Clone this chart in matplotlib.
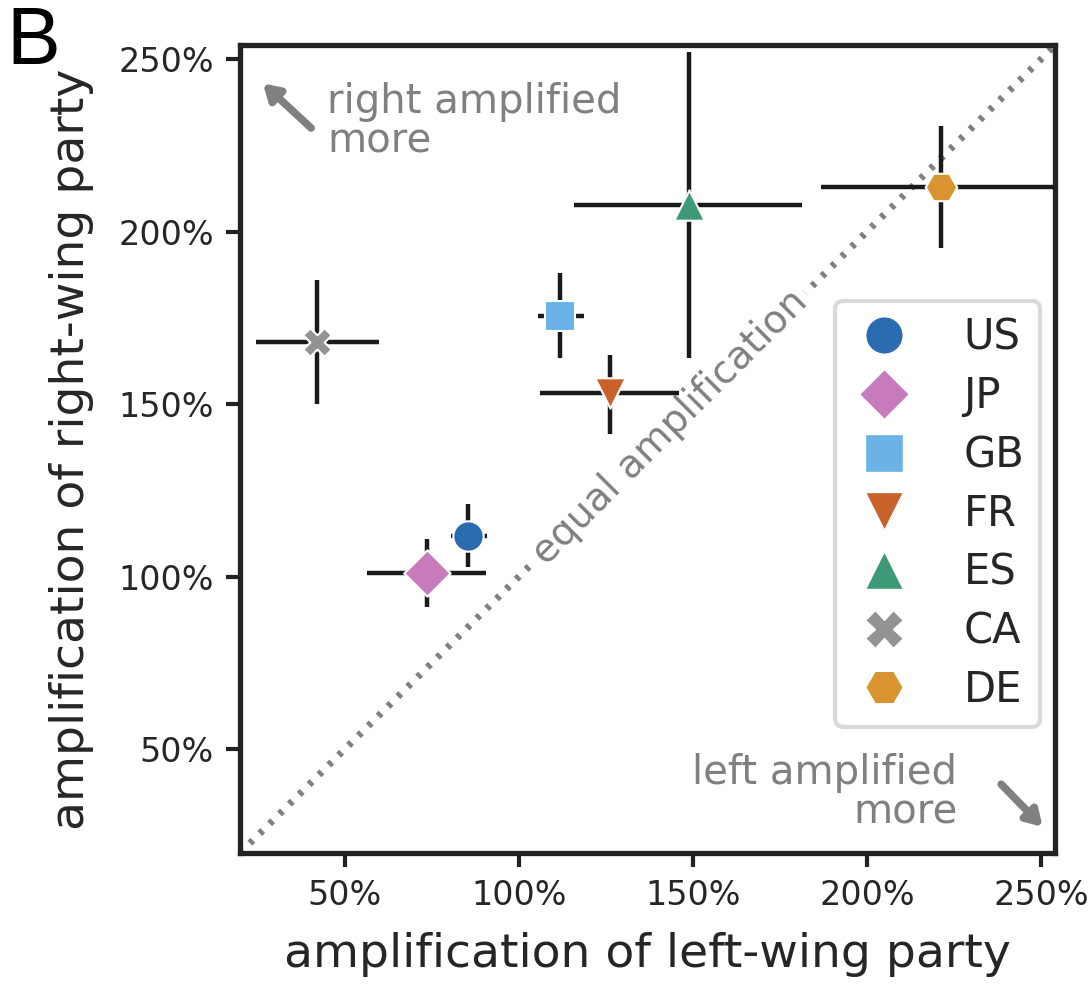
import matplotlib
matplotlib.use("Agg")
import matplotlib.pyplot as plt
from matplotlib.lines import Line2D

countries = ["US", "JP", "GB", "FR", "ES", "CA", "DE"]
left_amp = [85.6, 73.6, 111.8, 126.1, 148.9, 42.0, 221.3]
left_lo = [80.7, 56.6, 105.7, 106.0, 116.0, 24.7, 186.8]
left_hi = [90.8, 90.5, 118.7, 146.0, 181.3, 59.8, 262.0]
right_amp = [111.8, 101.1, 175.6, 153.4, 207.8, 168.0, 213.0]
right_lo = [102.9, 91.4, 163.5, 141.4, 163.5, 150.0, 195.4]
right_hi = [121.0, 111.0, 188.0, 164.4, 252.0, 186.0, 230.5]

markers = ["o", "D", "s", "v", "^", "X", "H"]
colors = ["#2b6cb0", "#c77bbd", "#6bb2e6", "#c9622a", "#3c9a76", "#939393", "#d8952f"]
sizes = [480, 560, 460, 480, 480, 420, 520]

ticks = [50, 100, 150, 200, 250]
tick_labels = ["50%", "100%", "150%", "200%", "250%"]
lo, hi = 20, 254

fig = plt.figure(figsize=(10.91, 9.85), dpi=100)
ax = fig.add_axes([0.22, 0.134, 0.747, 0.820])

gray = "#808080"

# equal amplification diagonal
ax.plot([lo, hi], [lo, hi], ls=(0, (0.6, 1.4)), lw=5, color=gray, zorder=1)
ax.text(143.5, 143.5, "equal amplification", rotation=45, rotation_mode="anchor",
        ha="center", va="center", fontsize=28, color=gray, zorder=2,
        bbox=dict(facecolor="white", edgecolor="none", pad=3))

for i, c in enumerate(countries):
    ax.plot([left_lo[i], left_hi[i]], [right_amp[i]] * 2, color="#1a1a1a", lw=3.2, zorder=3,
            solid_capstyle="butt")
    ax.plot([left_amp[i]] * 2, [right_lo[i], right_hi[i]], color="#1a1a1a", lw=3.2, zorder=3,
            solid_capstyle="butt")
    ax.scatter(left_amp[i], right_amp[i], s=sizes[i], marker=markers[i], color=colors[i],
               edgecolor="white", linewidth=1.5, zorder=4)

# arrows + annotations
arrow = dict(arrowstyle="-|>,head_length=0.9,head_width=0.55", color=gray, lw=5.5)
ax.annotate("", xy=(26, 243.5), xytext=(41, 229.5), arrowprops=arrow)
ax.text(45, 243.5, "right amplified\nmore", ha="left", va="top", fontsize=29, color=gray,
        linespacing=1.0)
ax.annotate("", xy=(251, 27), xytext=(238, 40.5), arrowprops=arrow)
ax.text(226, 49, "left amplified\nmore", ha="right", va="top", fontsize=29, color=gray,
        linespacing=1.0, multialignment="right")

ax.set_xlim(lo, hi)
ax.set_ylim(lo, hi)
ax.set_xticks(ticks)
ax.set_xticklabels(tick_labels)
ax.set_yticks(ticks)
ax.set_yticklabels(tick_labels)
ax.tick_params(labelsize=24, length=10, width=3, color="#222222", labelcolor="#262626", pad=9)
for s in ax.spines.values():
    s.set_linewidth(3.8)
    s.set_color("#222222")

ax.set_xlabel("amplification of left-wing party", fontsize=34, color="#262626", labelpad=14)
ax.set_ylabel("amplification of right-wing party", fontsize=34, color="#262626", labelpad=17)

handles = [Line2D([], [], ls="none", marker=markers[i], color=colors[i], markeredgecolor="white",
                  markersize=27 if markers[i] != "D" else 25)
           for i in range(len(countries))]
leg = ax.legend(handles, countries, loc="center right", bbox_to_anchor=(0.982, 0.42),
                borderaxespad=0, fontsize=30, frameon=True, fancybox=True, labelspacing=0.4,
                handletextpad=1.1, borderpad=0.38, handlelength=1.6)
leg.get_frame().set_edgecolor("#d0d0d0")
leg.get_frame().set_linewidth(3)
for t in leg.get_texts():
    t.set_color("#262626")

fig.text(0.006, 0.995, "B", fontsize=58, family="Liberation Sans", ha="left", va="top")

fig.savefig("out.png", dpi=100)
